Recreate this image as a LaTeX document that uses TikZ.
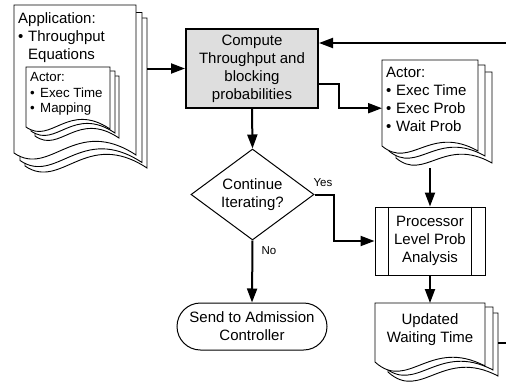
\documentclass[tikz,border=0pt]{standalone}
\usepackage{fontspec}
\setmainfont{Liberation Sans}
\usetikzlibrary{shapes.geometric,arrows.meta,calc}
\newcommand\docpage[7]{%
  \filldraw[docline] (#1,#2) -- ({#1+#3},#2) -- ({#1+#3},{#2+#4+#7})
    .. controls ({#1+0.5*#3},{#2+#4+#6}) and ({#1+0.3*#3},{#2+#4+#5}) .. (#1,{#2+#4}) -- cycle;}
\tikzset{
  conn/.style={line width=2pt, -{Triangle[length=14pt,width=10pt]}},
  docline/.style={draw=black, fill=white, line width=0.9pt},
  area/.style={inner sep=0pt, draw=none, anchor=north west},
  bigtxt/.style={font=\fontsize{15}{18}\selectfont, inner sep=0pt},
  listtxt/.style={bigtxt, align=left, anchor=north west},
  ctxt/.style={bigtxt, align=center},
  smalllbl/.style={font=\fontsize{11.5}{13}\selectfont, inner sep=0pt},
  compbox/.style={ctxt, draw=black, line width=2pt, fill=black!13, minimum width=132pt, minimum height=79pt},
  procbox/.style={ctxt, draw=black, line width=1pt, fill=white, minimum width=110pt, minimum height=68pt},
  termbox/.style={ctxt, draw=black, line width=1pt, fill=white, minimum width=150pt, minimum height=47pt, rounded corners=23.5pt},
  decbox/.style={ctxt, diamond, draw=black, line width=1pt, fill=white, minimum width=123pt, minimum height=91pt, aspect=1.35},
}
\newcommand\bul{\makebox[10pt][l]{•}}
\begin{document}
\begin{tikzpicture}[x=1pt,y=-1pt]
\useasboundingbox (0,0) rectangle (506,386);
\clip (0,0) rectangle (506,386);

% Application document stack
\docpage{25}{18}{122}{148}{25}{-38}{2}
\docpage{20}{12.5}{122}{148}{25}{-38}{2}
\docpage{14}{5}{122}{148}{25}{-38}{2}
\node[area, minimum width=133pt, minimum height=165pt] (app) at (14,5) {};
\node[listtxt] (apptxt) at (18,12) {Application:\\\bul Throughput\\\hspace*{10pt}Equations};

% inner Actor document stack
\docpage{35}{76}{84}{60}{18}{-26}{2}
\docpage{31}{71}{84}{60}{18}{-26}{2}
\docpage{26}{67}{84}{60}{18}{-26}{2}
\node[listtxt, font=\fontsize{13.3}{15.5}\selectfont] (acttxt1) at (30,72.4) {Actor:\\\bul Exec Time\\\bul Mapping};

% Compute box
\node[compbox] (comp) at (252,68.5) {Compute\\Throughput and\\blocking\\probabilities};

% Actor document stack (right)
\docpage{396}{72}{96}{86}{24}{-22}{5}
\docpage{389}{65}{96}{86}{24}{-22}{5}
\docpage{382}{60}{96}{86}{24}{-22}{5}
\node[area, minimum width=110pt, minimum height=108pt] (act) at (382,60) {};
\node[listtxt] (acttxt2) at (386,67) {Actor:\\\bul Exec Time\\\bul Exec Prob\\\bul Wait Prob};

% Decision
\node[decbox] (dec) at (252.5,194.5) {Continue\\Iterating?};

% Processor box
\node[procbox] (proc) at (430,241) {Processor\\Level Prob\\Analysis};
\draw[line width=1pt] ($(proc.north west)+(14,0)$) -- ($(proc.south west)+(14,0)$);
\draw[line width=1pt] ($(proc.north east)+(-14,0)$) -- ($(proc.south east)+(-14,0)$);

% Terminator
\node[termbox] (term) at (252,326.5) {Send to Admission\\Controller};

% Updated document stack
\docpage{388}{313}{110}{59}{30}{-25}{4}
\docpage{383}{307}{110}{59}{30}{-25}{4}
\docpage{375}{303}{110}{59}{30}{-25}{4}
\node[area, minimum width=123pt, minimum height=77pt] (upd) at (375,303) {};
\node[ctxt] (updtxt) at (430,330) {Updated\\Waiting Time};

% connectors
\coordinate (fb) at (520,200);
\draw[conn] (app.east |- comp.west) -- (comp.west);
\draw[conn] ($(comp.east)+(0,15.5)$) -- ++(20,0) |- ($(act.west)+(0,-6)$);
\draw[conn] (comp.south) -- (dec.north);
\draw[conn] (act.south -| proc.north) -- (proc.north);
\draw[conn] (dec.east) -- ++(19,0) |- (proc.west);
\draw[conn] (dec.south) -- (term.north);
\draw[conn] (proc.south) -- (proc.south |- upd.north);
\draw[conn] ($(upd.east)+(0,1.5)$) -| (fb) |- ($(comp.east)+(0,-25.5)$);

% labels
\node[smalllbl] (yes) at (323,183) {Yes};
\node[smalllbl] (no) at (269,251) {No};
\end{tikzpicture}
\end{document}
